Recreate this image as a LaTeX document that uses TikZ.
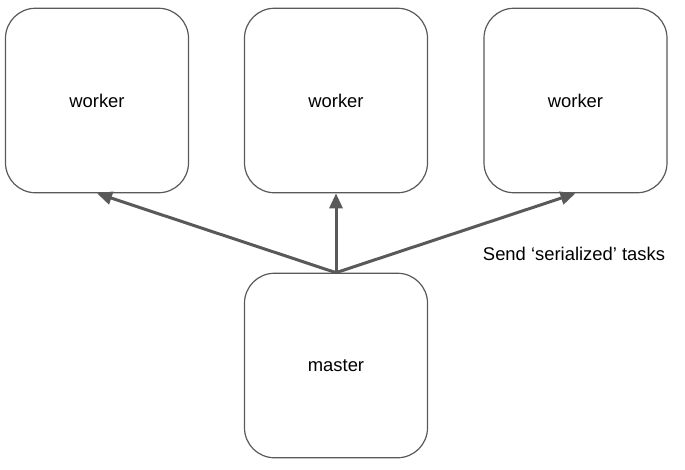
\documentclass[tikz,border=0pt]{standalone}
\usepackage{fontspec}
\setmainfont{Liberation Sans}
\usetikzlibrary{arrows.meta}
\definecolor{edgegray}{HTML}{595959}
\begin{document}
\begin{tikzpicture}[x=1pt,y=-1pt,
  box/.style={draw=edgegray,line width=1.2pt,rounded corners=30pt,minimum width=183pt,minimum height=184.5pt,inner sep=0pt,font=\fontsize{18.4}{22}\selectfont},
  conn/.style={draw=edgegray,line width=3pt,-{Triangle[length=15pt,width=13pt]}},
  lbl/.style={font=\fontsize{18.4}{22}\selectfont,text=black}]
\useasboundingbox (0,0) rectangle (685,469);
\node[box] (w1) at (97,100.5) {worker};
\node[box] (w2) at (336,100.5) {worker};
\node[box] (w3) at (575.5,100.5) {worker};
\node[box] (m) at (336,365.5) {master};
\draw[conn] (m.north) -- (w1.south);
\draw[conn] (m.north) -- (w2.south);
\draw[conn] (m.north) -- (w3.south);
\node[lbl] (t) at (574,253.5) {Send ‘serialized’ tasks};
\end{tikzpicture}
\end{document}
